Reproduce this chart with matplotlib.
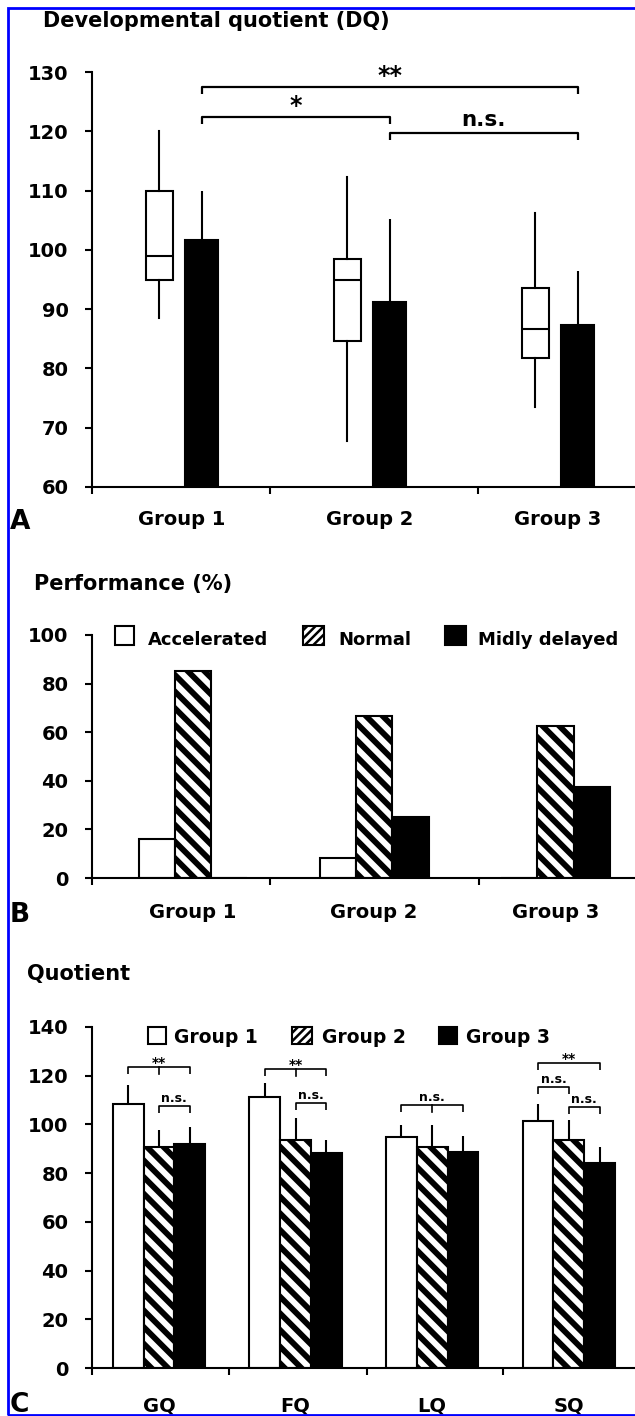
import numpy as np
import matplotlib
matplotlib.use("Agg")
import matplotlib.pyplot as plt
from matplotlib.patches import Rectangle

# ---- values ----
groups = ["Group 1", "Group 2", "Group 3"]

# A: developmental quotient, box (white) + mean/SD bar (black)
dq_whislo = [88.5, 67.7, 73.5]
dq_q1 = [95.0, 84.7, 81.7]
dq_med = [99.0, 95.0, 86.6]
dq_q3 = [110.0, 98.5, 93.5]
dq_whishi = [120.0, 112.3, 106.2]
dq_mean = [101.7, 91.2, 87.4]
dq_sd = [8.3, 14.0, 9.1]
# (from group, to group, height, label)
sig_a = [(0, 2, 127.5, "**"), (0, 1, 122.4, "*"), (1, 2, 119.7, "n.s.")]

# B: performance (%)
perf_labels = ["Accelerated", "Normal", "Midly delayed"]
perf_accel = [16.0, 8.3, 0.0]
perf_normal = [85.0, 66.7, 62.5]
perf_delayed = [0.0, 25.0, 37.5]

# C: sub-quotients, mean + SD
quot_names = ["GQ", "FQ", "LQ", "SQ"]
q_g1 = [108.4, 111.3, 94.9, 101.4]
q_g1_sd = [7.8, 5.7, 4.9, 7.0]
q_g2 = [90.8, 93.6, 90.8, 93.6]
q_g2_sd = [6.9, 9.1, 9.0, 8.2]
q_g3 = [92.0, 88.3, 88.7, 84.2]
q_g3_sd = [7.0, 5.3, 6.6, 6.6]
# (quotient, from group, to group, height, label, middle tick)
sig_c = [(0, 0, 2, 123.7, "**", True), (0, 1, 2, 107.6, "n.s.", False),
         (1, 0, 2, 122.8, "**", True), (1, 1, 2, 108.8, "n.s.", False),
         (2, 0, 2, 108.0, "n.s.", True),
         (3, 0, 2, 125.2, "**", False), (3, 0, 1, 115.4, "n.s.", False),
         (3, 1, 2, 107.2, "n.s.", False)]

plt.rcParams['font.family'] = ['DejaVu Sans']
plt.rcParams['font.weight'] = 'bold'
plt.rcParams['hatch.linewidth'] = 4.2

W, H = 635, 1416
fig = plt.figure(figsize=(W / 100, H / 100), dpi=100)
PT = 0.72  # points per pixel at dpi 100
HATCH = '\\\\'


def add_ax(left, top, right, bottom):
    return fig.add_axes([left / W, 1 - bottom / H, (right - left) / W, (bottom - top) / H])


def style(ax, xlim, ylim, yticks, seps):
    ax.set_xlim(*xlim)
    ax.set_ylim(*ylim)
    ax.spines['top'].set_visible(False)
    ax.spines['right'].set_visible(False)
    ax.spines['left'].set_linewidth(1.5)
    ax.spines['bottom'].set_linewidth(1.5)
    ax.set_yticks(yticks)
    ax.tick_params(axis='y', direction='out', length=5, width=1.5, pad=12, labelsize=14)
    ax.set_xticks([xlim[0]] + seps)
    ax.set_xticklabels([])
    ax.tick_params(axis='x', direction='out', length=5, width=1.5)
    ax.patch.set_alpha(0)


def under_label(ax, x, text, drop_px, size=14):
    ax.annotate(text, xy=(x, 0), xycoords=('data', 'axes fraction'),
                xytext=(0, -drop_px * PT), textcoords='offset points',
                ha='center', va='baseline', fontsize=size, fontweight='bold')


def bracket(ax, x1, x2, y, drop, label, size, off, lw, mid=None):
    xs = [x1, x1, x2, x2]
    ys = [y - drop, y, y, y - drop]
    ax.plot(xs, ys, color='black', lw=lw, clip_on=False, solid_capstyle='butt')
    if mid is not None:
        ax.plot([mid, mid], [y, y - drop], color='black', lw=lw, clip_on=False)
    ax.annotate(label, xy=((x1 + x2) / 2, y), xytext=(0, off), textcoords='offset points',
                ha='center', va='baseline', fontsize=size, fontweight='bold',
                annotation_clip=False)


def fig_rect(x0, y0, x1, y1, **kw):
    r = Rectangle((x0 / W, 1 - y1 / H), (x1 - x0) / W, (y1 - y0) / H,
                  transform=fig.transFigure, **kw)
    if kw.get('hatch') and hasattr(r, 'set_hatch_linewidth'):
        r.set_hatch_linewidth(1.8)
    fig.add_artist(r)
    return r


# ---------------- Panel A ----------------
axA = add_ax(92, 72, 635, 487)
xa = np.arange(len(groups))
style(axA, (-0.4787, 2.4096), (60, 130), np.arange(60, 131, 10), [0.468, 1.574])

stats = [dict(whislo=lo, q1=a, med=m, q3=b, whishi=hi, label=g)
         for lo, a, m, b, hi, g in zip(dq_whislo, dq_q1, dq_med, dq_q3, dq_whishi, groups)]
axA.bxp(stats, positions=xa - 0.12, widths=0.145, showfliers=False, showcaps=False,
        patch_artist=True, manage_ticks=False,
        boxprops=dict(facecolor='white', edgecolor='black', linewidth=1.5),
        medianprops=dict(color='black', linewidth=1.5),
        whiskerprops=dict(color='black', linewidth=1.5))
axA.bar(xa + 0.105, np.array(dq_mean) - 60, bottom=60, width=0.175,
        color='black', edgecolor='black', lw=1.5)
axA.vlines(xa + 0.105, dq_mean, np.array(dq_mean) + np.array(dq_sd), color='black', lw=1.5)

for g0, g1, h, lab in sig_a:
    size = 17 if '*' in lab else 15.5
    off = 3 if '*' in lab else 5
    bracket(axA, g0 + 0.105, g1 + 0.105, h, 1.2, lab, size, off, 1.6)

for i, g in enumerate(groups):
    under_label(axA, xa[i], g, 38)

# ---------------- Panel B ----------------
axB = add_ax(92, 635, 635, 878)
xb = np.arange(len(groups))
style(axB, (-0.5567, 2.4392), (0, 100), np.arange(0, 101, 20), [0.425, 1.578])
bw = 0.2
axB.bar(xb - bw, perf_accel, bw, facecolor='white', edgecolor='black', lw=1.5)
axB.bar(xb, perf_normal, bw, facecolor='white', edgecolor='black', hatch=HATCH, lw=1.5)
axB.bar(xb + bw, perf_delayed, bw, facecolor='black', edgecolor='black', lw=1.5)
for i, g in enumerate(groups):
    under_label(axB, xb[i], g, 40)

# legend B
leg_b = [(115, 134, 148, dict(facecolor='white')),
         (303, 324, 338, dict(facecolor='white', hatch='////')),
         (445, 466, 478, dict(facecolor='black'))]
for (x0, x1, tx, kw), lab in zip(leg_b, perf_labels):
    fig_rect(x0, 626, x1, 645, edgecolor='black', lw=1.5, **kw)
    fig.text(tx / W, 1 - 645 / H, lab, fontsize=13, fontweight='bold', va='baseline')

# ---------------- Panel C ----------------
axC = add_ax(92, 1027, 635, 1368)
xc = np.arange(len(quot_names))
style(axC, (-0.4896, 3.4841), (0, 140), np.arange(0, 141, 20), [0.51, 1.52, 2.52])
cw = 0.225
offs = [-cw, 0, cw]
axC.bar(xc - cw, q_g1, cw, facecolor='white', edgecolor='black', lw=1.5)
axC.bar(xc, q_g2, cw, facecolor='white', edgecolor='black', hatch=HATCH, lw=1.5)
axC.bar(xc + cw, q_g3, cw, facecolor='black', edgecolor='black', lw=1.5)
for off, vals, sd in zip(offs, [q_g1, q_g2, q_g3], [q_g1_sd, q_g2_sd, q_g3_sd]):
    axC.errorbar(xc + off, vals, yerr=[np.zeros(len(sd)), sd], fmt='none',
                 ecolor='black', elinewidth=1.5, capsize=0)

for q, g0, g1, h, lab, mid in sig_c:
    size = 10 if '*' in lab else 9
    off = 0 if '*' in lab else 3
    m = xc[q] if mid else None
    bracket(axC, xc[q] + offs[g0], xc[q] + offs[g1], h, 2.9, lab, size, off, 1.2, mid=m)

for i, q in enumerate(quot_names):
    under_label(axC, xc[i], q, 44)

# legend C
leg_c = [(148, 166, 174, dict(facecolor='white')),
         (292, 312, 322, dict(facecolor='white', hatch='////')),
         (439, 457, 466, dict(facecolor='black'))]
for (x0, x1, tx, kw), lab in zip(leg_c, groups):
    fig_rect(x0, 1027, x1, 1044, edgecolor='black', lw=1.5, **kw)
    fig.text(tx / W, 1 - 1043 / H, lab, fontsize=13.5, fontweight='bold', va='baseline')

# ---------------- titles, panel letters, frame ----------------
fig.text(43 / W, 1 - 27 / H, "Developmental quotient (DQ)", fontsize=15, fontweight='bold', va='baseline')
fig.text(34 / W, 1 - 590 / H, "Performance (%)", fontsize=15, fontweight='bold', va='baseline')
fig.text(27 / W, 1 - 980 / H, "Quotient", fontsize=15, fontweight='bold', va='baseline')
for letter, base in [("A", 529), ("B", 922), ("C", 1412)]:
    fig.text(10 / W, 1 - base / H, letter, fontsize=19, fontweight='bold', va='baseline')

fig_rect(7.5, 8, 900, 1415, fill=False, edgecolor='blue', lw=2)

fig.savefig("out.png", dpi=100)
